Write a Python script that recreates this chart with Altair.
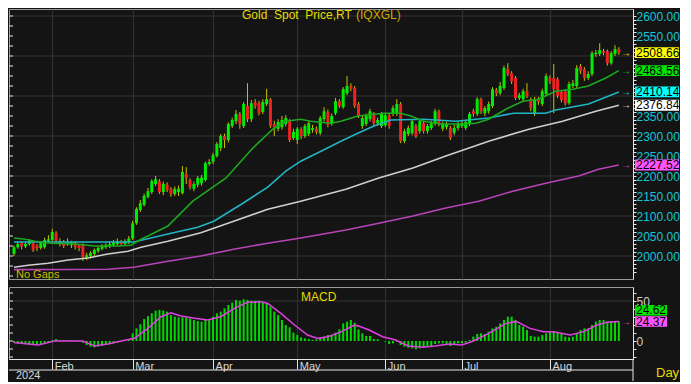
import altair as alt
import pandas as pd

# ---------------- data ----------------
OPEN = [2005, 2022, 2032, 2024, 2030, 2032, 2026, 2020, 2022, 2038,
        2040, 2058, 2030, 2035, 2030, 2027, 2033, 2026, 2028, 1996,
        2000, 2005, 2012, 2018, 2022, 2026, 2028, 2030, 2035, 2030,
        2035, 2044, 2082, 2115, 2128, 2148, 2160, 2180, 2187, 2160,
        2178, 2168, 2155, 2160, 2157, 2205, 2190, 2168, 2178, 2182,
        2190, 2230, 2236, 2250, 2270, 2300, 2290, 2325, 2337, 2355,
        2325, 2375, 2342, 2385, 2382, 2360, 2380, 2392, 2330, 2318,
        2322, 2330, 2337, 2295, 2290, 2317, 2300, 2305, 2315, 2318,
        2307, 2342, 2360, 2330, 2357, 2387, 2372, 2407, 2425, 2420,
        2380, 2325, 2330, 2342, 2355, 2332, 2325, 2327, 2352, 2355,
        2355, 2380, 2287, 2305, 2307, 2325, 2312, 2332, 2312, 2320,
        2332, 2362, 2318, 2322, 2320, 2308, 2320, 2325, 2320, 2330,
        2362, 2355, 2392, 2357, 2362, 2375, 2415, 2407, 2420, 2467,
        2457, 2445, 2395, 2392, 2412, 2392, 2355, 2392, 2380, 2405,
        2445, 2445, 2442, 2410, 2412, 2382, 2425, 2425, 2475, 2467,
        2445, 2455, 2505, 2505, 2512, 2512, 2482, 2505, 2517]
CLOSE = [2022, 2030, 2024, 2030, 2036, 2015, 2020, 2033, 2040, 2042,
         2060, 2038, 2036, 2025, 2034, 2034, 2022, 2020, 1998, 2002,
         2008, 2015, 2020, 2025, 2028, 2030, 2033, 2036, 2030, 2038,
         2044, 2082, 2118, 2132, 2150, 2162, 2187, 2192, 2160, 2180,
         2165, 2155, 2168, 2168, 2210, 2195, 2172, 2180, 2195, 2196,
         2232, 2235, 2252, 2280, 2300, 2290, 2330, 2340, 2355, 2330,
         2380, 2342, 2382, 2375, 2357, 2385, 2392, 2325, 2322, 2335,
         2340, 2345, 2290, 2310, 2318, 2300, 2325, 2332, 2320, 2310,
         2345, 2362, 2328, 2350, 2387, 2375, 2417, 2425, 2418, 2375,
         2350, 2345, 2350, 2362, 2332, 2340, 2355, 2352, 2325, 2370,
         2380, 2287, 2312, 2320, 2337, 2300, 2337, 2312, 2325, 2332,
         2362, 2330, 2330, 2330, 2295, 2320, 2330, 2332, 2335, 2355,
         2355, 2392, 2362, 2370, 2380, 2417, 2407, 2425, 2470, 2455,
         2437, 2395, 2402, 2412, 2400, 2370, 2392, 2385, 2412, 2450,
         2437, 2417, 2400, 2390, 2382, 2430, 2432, 2470, 2462, 2445,
         2455, 2507, 2508, 2515, 2508, 2482, 2507, 2517, 2508.66]
HIGH = [2026, 2036, 2036, 2035, 2042, 2036, 2030, 2037, 2046, 2052,
        2068, 2062, 2044, 2040, 2044, 2038, 2036, 2030, 2032, 2008,
        2012, 2019, 2024, 2030, 2032, 2036, 2040, 2044, 2040, 2042,
        2050, 2088, 2122, 2140, 2156, 2170, 2192, 2200, 2192, 2186,
        2184, 2172, 2174, 2176, 2225, 2222, 2194, 2186, 2200, 2202,
        2236, 2242, 2258, 2285, 2305, 2306, 2334, 2346, 2365, 2360,
        2385, 2432, 2390, 2392, 2388, 2392, 2418, 2395, 2338, 2342,
        2350, 2352, 2342, 2318, 2322, 2322, 2330, 2338, 2328, 2324,
        2350, 2372, 2366, 2356, 2395, 2392, 2422, 2450, 2432, 2425,
        2385, 2350, 2356, 2368, 2360, 2346, 2360, 2358, 2357, 2376,
        2392, 2385, 2318, 2326, 2342, 2330, 2342, 2337, 2330, 2338,
        2368, 2366, 2336, 2336, 2325, 2328, 2335, 2338, 2340, 2360,
        2368, 2397, 2396, 2375, 2386, 2422, 2420, 2435, 2476, 2482,
        2462, 2450, 2408, 2418, 2432, 2396, 2398, 2398, 2418, 2456,
        2452, 2480, 2447, 2415, 2417, 2436, 2440, 2477, 2480, 2472,
        2462, 2512, 2515, 2532, 2518, 2516, 2512, 2527, 2522]
LOW = [2000, 2018, 2016, 2020, 2026, 2010, 2012, 2016, 2018, 2032,
       2036, 2032, 2024, 2020, 2025, 2020, 2016, 2012, 1988, 1990,
       1994, 2000, 2008, 2014, 2018, 2020, 2024, 2026, 2026, 2026,
       2030, 2040, 2078, 2110, 2124, 2144, 2155, 2175, 2155, 2152,
       2160, 2148, 2150, 2150, 2154, 2180, 2166, 2162, 2172, 2176,
       2186, 2226, 2230, 2246, 2262, 2270, 2284, 2320, 2330, 2318,
       2320, 2335, 2335, 2368, 2352, 2355, 2375, 2320, 2300, 2312,
       2316, 2324, 2285, 2290, 2280, 2292, 2295, 2300, 2308, 2304,
       2302, 2336, 2322, 2326, 2352, 2370, 2368, 2402, 2412, 2370,
       2345, 2318, 2325, 2336, 2325, 2326, 2320, 2322, 2318, 2350,
       2350, 2282, 2282, 2300, 2302, 2295, 2306, 2306, 2306, 2315,
       2326, 2324, 2312, 2316, 2290, 2302, 2314, 2320, 2315, 2325,
       2348, 2350, 2355, 2350, 2356, 2370, 2400, 2402, 2415, 2450,
       2430, 2390, 2390, 2386, 2395, 2362, 2350, 2378, 2375, 2400,
       2430, 2357, 2395, 2384, 2376, 2378, 2420, 2420, 2455, 2438,
       2440, 2450, 2498, 2500, 2502, 2476, 2478, 2500, 2503]

# moving averages (sampled along the drawn curves: trading-day index, value)
GREEN_IDX = [0, 2.9, 5.5, 9.7, 15.9, 21.1, 27.2, 30.5, 33.2, 35, 40.2, 46.7, 55.4, 62.4, 67.6, 71,
             74.9, 77.5, 82.8, 85.4, 89.8, 96.6, 101, 103.7, 107, 111.5, 118, 120.6, 124, 128.5,
             132.9, 137, 141.5, 146, 150, 154.6, 158]
GREEN_VAL = [2045, 2042, 2037, 2032, 2030, 2025, 2025, 2027, 2042, 2050, 2075, 2137, 2195, 2270, 2317, 2337,
             2342, 2337, 2332, 2337, 2350, 2357, 2357, 2350, 2337, 2330, 2330, 2332, 2342, 2367,
             2387, 2392, 2412, 2417, 2425, 2445, 2463.56]
CYAN_IDX = [0, 31.3, 40.2, 48, 52.2, 59.8, 66.3, 71, 74.9, 80.2, 85.4, 89.8, 94, 98.4, 107, 115.4,
            124, 130.5, 138.9, 141.5, 150.1, 158]
CYAN_VAL = [2035, 2035, 2055, 2072, 2087, 2132, 2172, 2212, 2237, 2262, 2287, 2307, 2325, 2340, 2342, 2337,
            2345, 2357, 2357, 2365, 2380, 2410.14]
WHITE_IDX = [0, 3.7, 8.9, 14.1, 19.3, 24.5, 29.8, 33.2, 40.2, 48.8, 57.4, 66.3, 74.9, 86.7, 95.3, 104.2,
             112.8, 124, 134.5, 143.3, 152, 158]
WHITE_VAL = [1972, 1977, 1982, 1990, 1995, 2005, 2012, 2022, 2037, 2058, 2087, 2117, 2137, 2167, 2195, 2220,
             2250, 2287, 2317, 2337, 2362, 2376.84]
MAG_IDX = [0, 24.5, 31.3, 40.2, 48.8, 57.4, 66.3, 74.9, 86.7, 95.3, 104.2, 112.8, 121.4, 130.3, 138.9,
           147.5, 152.7, 158]
MAG_VAL = [1966, 1967, 1972, 1987, 2000, 2017, 2032, 2045, 2065, 2082, 2100, 2120, 2137, 2162, 2182,
           2200, 2217, 2227.52]

# MACD histogram bars and signal line
MACD = [-2, -3, -3, -4, -5, -5, -4, -4, -3, -2, 1, 2.5, 1, 1, 1, 1, 0.5, 0.5, -2, -5,
        -7, -8, -7, -6, -5, -4, -3, -2, -1, 1, 2.5,
        9.6, 15.8, 21, 27.5, 31, 34.6, 38, 38.8, 38, 36.7, 32.5, 30.4, 29.6, 29.6, 29.6, 28.3,
        26.3, 25, 24.2, 26.3, 27, 30.4, 34.6, 36.7, 40.8, 45, 47.9, 51.3, 50.4, 52, 51.3, 50.4,
        50.4, 50.4, 49, 47, 43, 36.7, 32.5, 26.3, 20, 17, 10.4, 7.5, 4.6, 3.3, 2.5, 1.3, 2, 3.3,
        5.4, 7.5, 7.5, 10.4, 14.6, 22, 24.2, 26.3, 22.9, 14.6, 9.6, 6.3, 6.3, 2.5, 2.1, 0, -0.8,
        -3.8, -2.9, -0.8, -5, -7.1, -8.3, -9.2, -10.4, -9.2, -8.3, -7.1, -6.3, -3.8, -2.9, -2.9,
        -3.8, -6.3, -3.8, -2.9, -2.9, -2.1, 1.3, 5.4, 8.8, 9.6, 8.8, 11.7, 15.8, 17.9, 22, 26.3,
        30.4, 30.4, 26.3, 20, 17.9, 13.8, 6.3, 5.4, 5.4, 7.5, 9.6, 11.7, 11.7, 10.4, 9.6, 5.4,
        4.6, 5.4, 9.6, 13.8, 15.8, 15.8, 20, 24.2, 26.3, 26.3, 24.2, 25, 25, 24.62]
SIG_IDX = [0, 6.3, 10.6, 18, 21, 24.5, 28, 31.5, 35, 38.4, 41, 43.6, 47.2, 50.6, 54, 57.6, 61, 64.5,
           66.3, 69.7, 73.3, 76.7, 79.4, 82, 85.6, 88.9, 90, 92.8, 96.3, 99.7, 103, 106.7, 110,
           113.7, 117, 120, 124, 128.5, 131.3, 134.8, 138.3, 140.9, 145.3, 148.8, 152.3, 154.9, 158]
SIG_VAL = [-2, -5, 0, 0, -6.3, -3.8, 0, 3.3, 15.8, 30.4, 35.4, 31.3, 28.3, 26.3, 30.4, 40.8, 48.3, 49.2,
           47, 34.6, 20, 7.5, 3.3, 5.4, 11.7, 20, 18.8, 13.8, 5.4, 1.3, -6.3, -7.9, -6.3,
           -3.8, -5, 0, 9.6, 22, 24.2, 15.8, 11.7, 11.7, 7.5, 11.7, 20, 23.3, 24.37]

MONTHS = ["Feb", "Mar", "Apr", "May", "Jun", "Jul", "Aug"]
MONTH_IDX = [10, 31, 52, 74, 97, 117, 140]

PRICE_TICKS = list(range(1960, 2601, 10))
PRICE_LABEL_HIDDEN = [2400, 2450, 2500]      # covered by the value tags
PRICE_GRID = [2000, 2100, 2200, 2300, 2400, 2500, 2600]
PRICE_LEFT_TICKS = list(range(1950, 2611, 25))
MACD_TICKS = list(range(-20, 61, 10))
MACD_GRID = [50]

TAG_VALUES = [2508.66, 2463.56, 2410.14, 2376.84, 2227.52]
MACD_VALUE = 24.62
SIGNAL_VALUE = 24.37

NB = "\u00a0"
TITLE_MAIN = f"Gold{NB} Spot{NB} Price,RT"
TITLE_CODE = "(IQXGL)"

assert len(OPEN) == len(CLOSE) == len(HIGH) == len(LOW) == len(MACD) == 159

# ---------------- styling ----------------
BG = "#141414"
GRID = "#323232"
AXC = "#e6e6e6"
UP = "#00ec00"
DOWN = "#ee2222"
WICK = "#c8c000"
MA_NAMES = ["ma200", "ma100", "ma50", "ma20"]
MA_COLORS = ["#b844b8", "#cfcfcf", "#20b4c4", "#1ea81e"]
TAG_COLORS = ["#ffff00", "#00e400", "#00ffff", "#ffffff", "#ff55ff"]
ARROW_COLORS = ["#ffff00", "#20d020", "#00e0f0", "#f0f0f0", "#e040e0"]
FONT = "Liberation Sans"

W, H1, H2 = 624, 270, 72
X_DOMAIN = [-1.3, 161.7]
Y1_DOMAIN = [1942.5, 2617.5]
Y2_DOMAIN = [-22.5, 67.5]

xs = alt.Scale(domain=X_DOMAIN, nice=False, zero=False)
ys1 = alt.Scale(domain=Y1_DOMAIN, nice=False, zero=False)
ys2 = alt.Scale(domain=Y2_DOMAIN, nice=False, zero=False)

hidden = "[" + ",".join(str(v) for v in PRICE_LABEL_HIDDEN) + "]"
x_ax_main = alt.Axis(values=MONTH_IDX, grid=True, gridColor=GRID, gridWidth=1,
                     labels=False, ticks=False, domain=False, title=None)
y_ax_main = alt.Axis(orient="right", values=PRICE_TICKS,
                     labelExpr=("datum.value % 50 === 0 && datum.value >= 2000 && indexof(" + hidden +
                                ", datum.value) < 0 ? format(datum.value, '.2f') : ''"),
                     tickSize=3, tickColor=AXC, domainColor=AXC, labelColor="#12c6d6",
                     labelFontSize=12, labelFont=FONT, labelPadding=0, labelOverlap=False,
                     grid=False, title=None)

month_expr = " : ".join(f"datum.value == {i} ? '{m}'" for i, m in zip(MONTH_IDX, MONTHS)) + " : ''"
x_ax_macd = alt.Axis(values=MONTH_IDX, labelExpr=month_expr, grid=True, gridColor=GRID,
                     tickSize=10, tickColor=AXC, domainColor=AXC, labelAlign="left",
                     labelBaseline="alphabetic", labelPadding=0, labelOffset=2, labelColor="#d8d8d8",
                     labelFontSize=11, labelFont=FONT, labelOverlap=False, labelFlush=False, title=None)
y_ax_macd = alt.Axis(orient="right", values=MACD_TICKS,
                     labelExpr="(datum.value == 0 || datum.value == 50) ? '' + datum.value : ''",
                     tickSize=3, tickColor=AXC, domainColor=AXC, labelColor="#d0d0d0",
                     labelFontSize=12, labelFont=FONT, labelPadding=0, labelOverlap=False,
                     grid=False, title=None)


def X1(f):
    return alt.X(f, scale=xs, axis=x_ax_main)


def Y1(f):
    return alt.Y(f, scale=ys1, axis=y_ax_main)


def X2(f):
    return alt.X(f, scale=xs, axis=x_ax_macd)


def Y2(f):
    return alt.Y(f, scale=ys2, axis=y_ax_macd)


one = pd.DataFrame({"a": [0]})

# ---------------- price panel ----------------
candles = pd.DataFrame({"i": list(range(len(CLOSE))), "open": OPEN, "close": CLOSE,
                        "high": HIGH, "low": LOW})

grid1 = alt.Chart(pd.DataFrame({"g": PRICE_GRID})).mark_rule(color=GRID, strokeWidth=1).encode(
    y=Y1("g:Q"))
lt1 = alt.Chart(pd.DataFrame({"t": PRICE_LEFT_TICKS})).mark_rule(color=AXC, strokeWidth=1).encode(
    y=Y1("t:Q"), x=alt.value(0), x2=alt.value(4))
wicks = alt.Chart(candles).mark_rule(color=WICK, strokeWidth=1).encode(
    x=X1("i:Q"), y=Y1("low:Q"), y2="high:Q")
bodies = alt.Chart(candles).mark_rule(strokeWidth=3).encode(
    x=X1("i:Q"), y=Y1("open:Q"), y2="close:Q",
    color=alt.condition("datum.close >= datum.open", alt.value(UP), alt.value(DOWN)))

ma_df = pd.concat([
    pd.DataFrame({"i": MAG_IDX, "v": MAG_VAL, "name": "ma200"}),
    pd.DataFrame({"i": WHITE_IDX, "v": WHITE_VAL, "name": "ma100"}),
    pd.DataFrame({"i": CYAN_IDX, "v": CYAN_VAL, "name": "ma50"}),
    pd.DataFrame({"i": GREEN_IDX, "v": GREEN_VAL, "name": "ma20"}),
])
ma = alt.Chart(ma_df).mark_line(strokeWidth=1.6).encode(
    x=X1("i:Q"), y=Y1("v:Q"),
    color=alt.Color("name:N", scale=alt.Scale(domain=MA_NAMES, range=MA_COLORS), legend=None))

tag_df = pd.DataFrame({"v": TAG_VALUES, "label": [f"{v:.2f}" for v in TAG_VALUES],
                       "bg": TAG_COLORS, "ac": ARROW_COLORS})
tag_rect = alt.Chart(tag_df).transform_calculate(
    lo="datum.v - 13.5", hi="datum.v + 13.5").mark_rect().encode(
    x=alt.value(626), x2=alt.value(670), y=Y1("lo:Q"), y2="hi:Q",
    color=alt.Color("bg:N", scale=None))
tag_text = alt.Chart(tag_df).mark_text(align="left", baseline="middle", fontSize=12,
                                       font=FONT, color="#000000").encode(
    x=alt.value(627), y=Y1("v:Q"), text="label:N")
arrows = alt.Chart(tag_df).mark_text(align="center", baseline="middle", fontSize=10,
                                     font=FONT, text="→").encode(
    x=alt.value(617), y=Y1("v:Q"), color=alt.Color("ac:N", scale=None))

t1 = alt.Chart(one).mark_text(align="left", baseline="middle", fontSize=12, font=FONT,
                              color="#e4dc00", text=TITLE_MAIN).encode(
    x=alt.value(233), y=alt.value(6))
t2 = alt.Chart(one).mark_text(align="left", baseline="middle", fontSize=12, font=FONT,
                              color="#d0a800", text=TITLE_CODE).encode(
    x=alt.value(347), y=alt.value(6))
nogaps = alt.Chart(one).mark_text(align="left", baseline="middle", fontSize=11, font=FONT,
                                  color="#ccbc00", text="No Gaps").encode(
    x=alt.value(7), y=alt.value(266))

main = alt.layer(grid1, lt1, wicks, bodies, ma, tag_rect, tag_text, arrows, t1, t2, nogaps).properties(
    width=W, height=H1)

# ---------------- MACD panel ----------------
macd_df = pd.DataFrame({"i": list(range(len(MACD))), "m": MACD, "z": 0})
sig_df = pd.DataFrame({"i": SIG_IDX, "s": SIG_VAL})

grid2 = alt.Chart(pd.DataFrame({"g": MACD_GRID})).mark_rule(color=GRID, strokeWidth=1).encode(
    y=Y2("g:Q"))
lt2 = alt.Chart(pd.DataFrame({"t": MACD_TICKS})).mark_rule(color=AXC, strokeWidth=1).encode(
    y=Y2("t:Q"), x=alt.value(0), x2=alt.value(4))
bars = alt.Chart(macd_df).mark_rule(color="#00d800", strokeWidth=2).encode(
    x=X2("i:Q"), y=Y2("m:Q"), y2="z:Q")
sig = alt.Chart(sig_df).mark_line(color="#e040e0", strokeWidth=1.5).encode(
    x=X2("i:Q"), y=Y2("s:Q"))

mt_g = pd.DataFrame({"v": [MACD_VALUE], "label": [f"{MACD_VALUE:.2f}"]})
mt_m = pd.DataFrame({"v": [SIGNAL_VALUE], "label": [f"{SIGNAL_VALUE:.2f}"]})
g_rect = alt.Chart(mt_g).transform_calculate(lo="datum.v - 6.6", hi="datum.v + 6.6").mark_rect(
    color="#00e400", yOffset=-11, y2Offset=-11).encode(
    x=alt.value(626), x2=alt.value(658), y=Y2("lo:Q"), y2="hi:Q")
g_text = alt.Chart(mt_g).mark_text(align="left", baseline="middle", fontSize=12, font=FONT,
                                   color="#000000", dy=-11).encode(
    x=alt.value(627), y=Y2("v:Q"), text="label:N")
m_rect = alt.Chart(mt_m).transform_calculate(lo="datum.v - 6.6", hi="datum.v + 6.6").mark_rect(
    color="#ff55ff").encode(
    x=alt.value(626), x2=alt.value(658), y=Y2("lo:Q"), y2="hi:Q")
m_text = alt.Chart(mt_m).mark_text(align="left", baseline="middle", fontSize=12, font=FONT,
                                   color="#000000").encode(
    x=alt.value(627), y=Y2("v:Q"), text="label:N")
m_arrow = alt.Chart(mt_m).mark_text(align="center", baseline="middle", fontSize=10, font=FONT,
                                    color="#e040e0", text="→").encode(
    x=alt.value(617), y=Y2("v:Q"))

macd_lbl = alt.Chart(one).mark_text(align="left", baseline="middle", fontSize=12, font=FONT,
                                    color="#e4dc00", text="MACD").encode(
    x=alt.value(292), y=alt.value(10))
day_lbl = alt.Chart(one).mark_text(align="left", baseline="middle", fontSize=13, font=FONT,
                                   color="#e4dc00", text="Day").encode(
    x=alt.value(647), y=alt.value(86))
year_lbl = alt.Chart(one).mark_text(align="left", baseline="middle", fontSize=11, font=FONT,
                                    color="#d8d8d8", text="2024").encode(
    x=alt.value(7), y=alt.value(89))
bottom_line = alt.Chart(one).mark_rule(color=AXC, strokeWidth=1).encode(
    x=alt.value(0), x2=alt.value(W), y=alt.value(83))
right_line = alt.Chart(one).mark_rule(color=AXC, strokeWidth=1).encode(
    x=alt.value(W), y=alt.value(H2), y2=alt.value(94))

macd = alt.layer(grid2, lt2, bars, sig, g_rect, g_text, m_rect, m_text, m_arrow,
                 macd_lbl, day_lbl, year_lbl, bottom_line, right_line).properties(
    width=W, height=H2)

chart = alt.vconcat(main, macd, spacing=5).properties(padding=0).configure(
    background=BG, font=FONT).configure_view(fill=BG, stroke="#9a9a9a", strokeWidth=1)

chart.save("out.html", embed_options={"renderer": "svg", "actions": False})
